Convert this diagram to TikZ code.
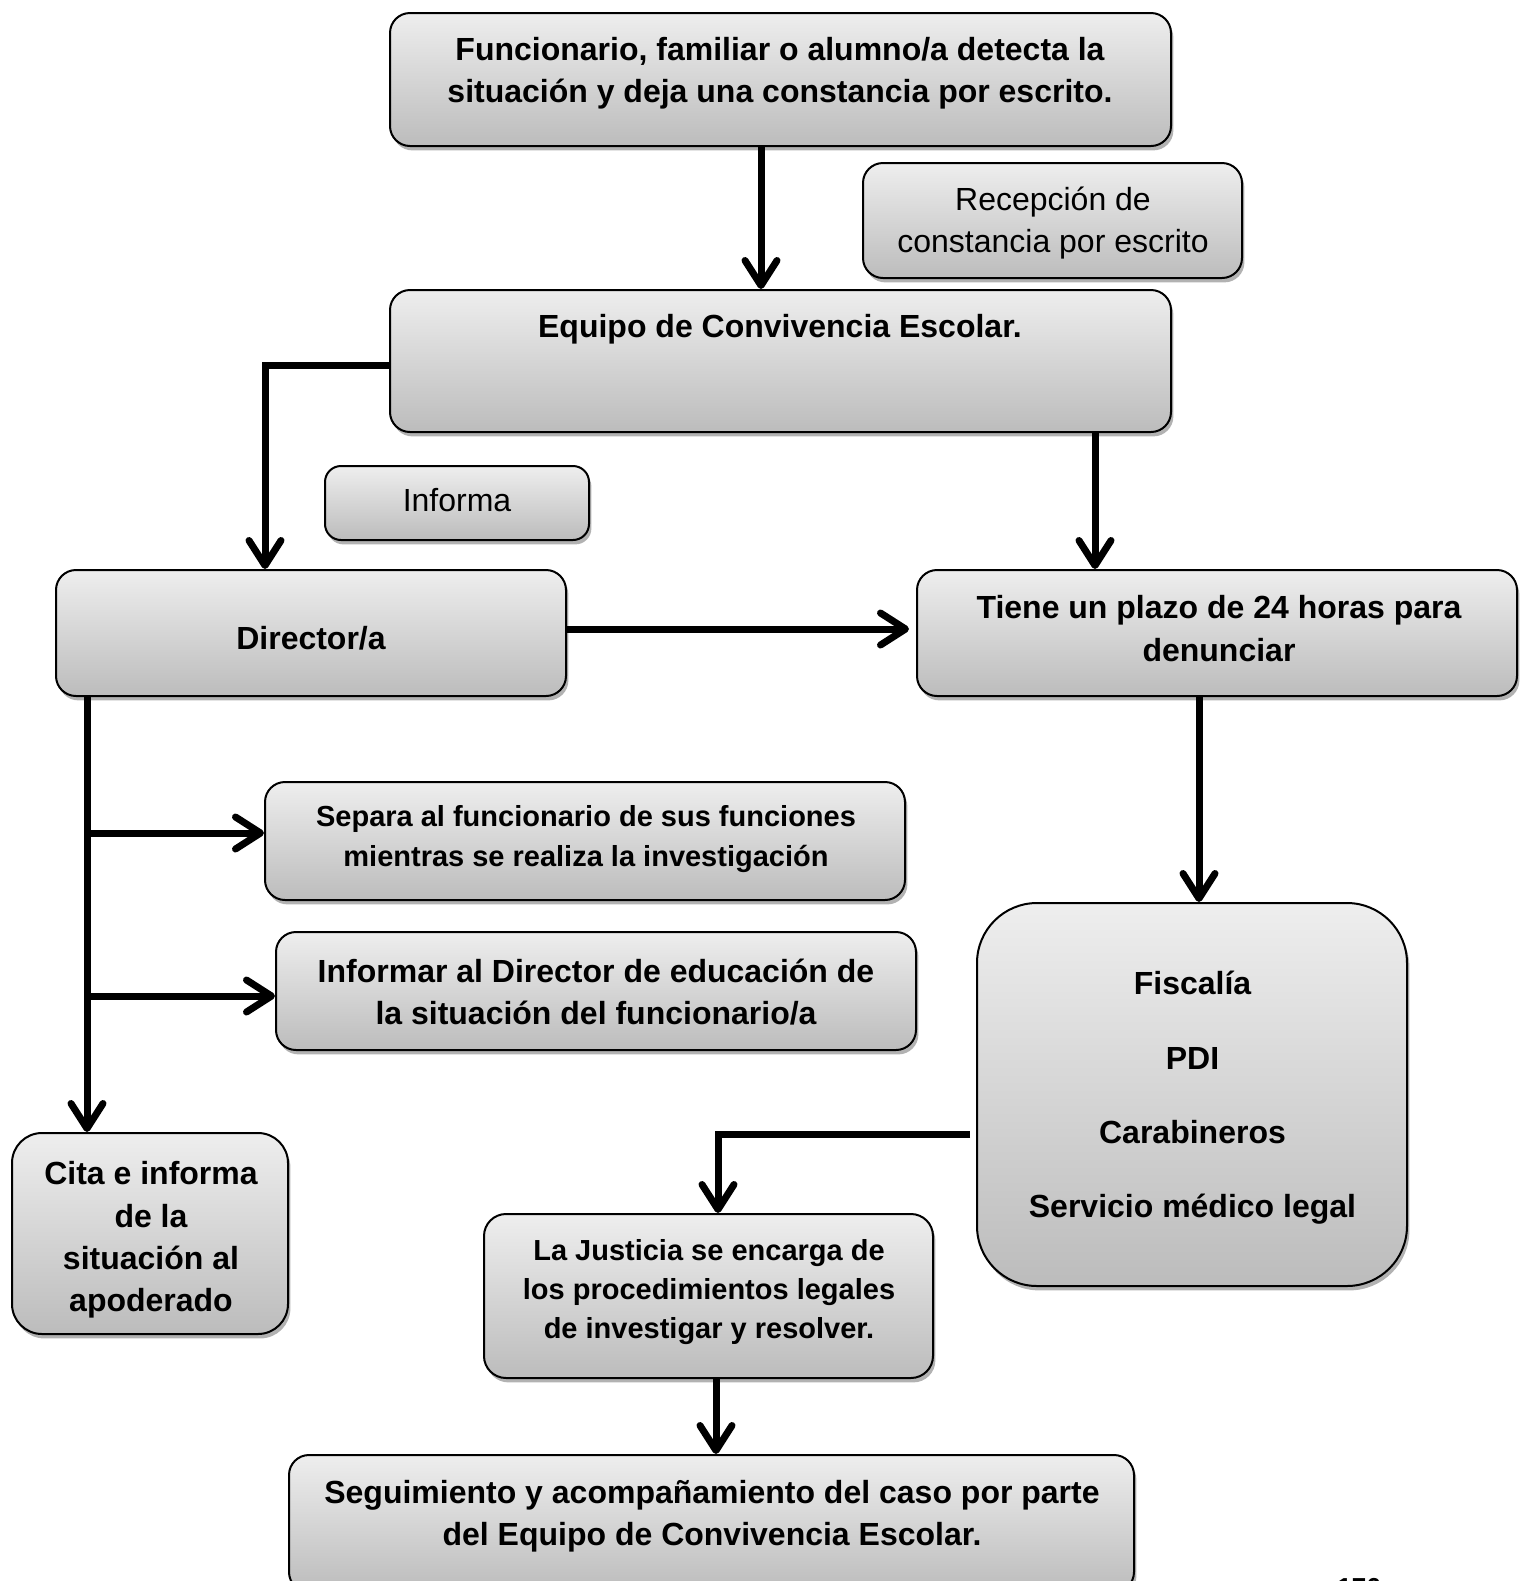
\documentclass[tikz,border=0pt]{standalone}
\usepackage{fontspec}
\setmainfont{Liberation Sans}
\usetikzlibrary{arrows.meta,shadows}
\definecolor{boxtop}{RGB}{238,238,238}
\definecolor{boxbot}{RGB}{188,188,188}
\newcommand\mkbox[6][]{%
  \node[box,#1,minimum width={(#5-#3)*0.5pt},minimum height={(#6-#4)*0.5pt}] (#2) at ({(#3+#5)/2},{(#4+#6)/2}) {};}
\begin{document}
\begin{tikzpicture}[x=0.5pt,y=-0.5pt,
  box/.style={draw=black, line width=1pt, rounded corners=10pt, top color=boxtop, bottom color=boxbot,
    drop shadow={shadow xshift=1.2pt, shadow yshift=-2.2pt, fill=black, opacity=0.3}, inner sep=0pt},
  tb/.style={align=center, inner sep=0pt, font=\bfseries\fontsize{16pt}{21.15pt}\selectfont},
  tr/.style={align=center, inner sep=0pt, font=\fontsize{16pt}{20.7pt}\selectfont},
  ts/.style={align=center, inner sep=0pt, font=\bfseries\fontsize{14.5pt}{19.6pt}\selectfont},
  tf/.style={align=center, inner sep=0pt, font=\bfseries\fontsize{16pt}{37.15pt}\selectfont},
  conn/.style={line width=3.5pt},
  arr/.style={conn, -{Straight Barb[length=12.5pt,width=16pt,line cap=round,line join=round]}}
]
\useasboundingbox (0,0) rectangle (1520,1581);

% boxes
\mkbox{top}{390}{13}{1171}{146}
\mkbox{rec}{863}{163}{1242}{278}
\mkbox{eq}{390}{290}{1171}{432}
\mkbox[rounded corners=8pt]{inf}{325}{466}{589}{540}
\mkbox{dir}{56}{570}{566}{696}
\mkbox{tie}{917}{570}{1517}{696}
\mkbox{sep}{265}{782}{905}{900}
\mkbox{infd}{276}{932}{916}{1050}
\mkbox[rounded corners=15pt]{cita}{12}{1133}{288}{1334}
\mkbox[rounded corners=30pt]{fis}{977}{903}{1407}{1286}
\mkbox[rounded corners=11pt]{jus}{484}{1214}{933}{1378}
\mkbox{seg}{289}{1455}{1134}{1592}

% texts
\node[tb] (t1) at (780,73) {Funcionario, familiar o alumno/a detecta la\\situación y deja una constancia por escrito.};
\node[tr] (t2) at (1053,223) {Recepción de\\constancia por escrito};
\node[tb] (t3) at (780,329) {Equipo de Convivencia Escolar.};
\node[tr] (t4) at (457,500) {Informa};
\node[tb] (t5) at (311,638.5) {Director/a};
\node[tb] (t6) at (1219,628.5) {Tiene un plazo de 24 horas para\\denunciar};
\node[ts] (t7) at (586,839) {Separa al funcionario de sus funciones\\mientras se realiza la investigación};
\node[tb] (t8) at (596,992) {Informar al Director de educación de\\la situación del funcionario/a};
\node[tb] (t9) at (151,1240) {Cita e informa\\de la\\situación al\\apoderado};
\node[tf] (t10) at (1192.5,1098) {Fiscalía\\PDI\\Carabineros\\Servicio médico legal};
\node[ts] (t11) at (709,1292) {La Justicia se encarga de\\los procedimientos legales\\de investigar y resolver.};
\node[tb] (t12) at (712,1516.5) {Seguimiento y acompañamiento del caso por parte\\del Equipo de Convivencia Escolar.};
\node[anchor=north west, inner sep=0pt, font=\bfseries\fontsize{13pt}{13pt}\selectfont] (pg) at (1337,1578) {176};

% helper coordinates
\coordinate (xa) at (761,0);
\coordinate (ya) at (0,365);
\coordinate (xb) at (265,0);
\coordinate (xc) at (1095,0);
\coordinate (yd) at (0,629);
\coordinate (xe) at (87,0);
\coordinate (yf) at (0,833);
\coordinate (yg) at (0,996);
\coordinate (xh) at (1199,0);
\coordinate (i0) at (970,1134);
\coordinate (xj) at (718,0);
\coordinate (xk) at (716,0);

% connectors
\draw[arr] (top.south -| xa) -- (eq.north -| xa);
\draw[arr] (eq.west |- ya) -| (dir.north -| xb);
\draw[arr] (eq.south -| xc) -- (tie.north -| xc);
\draw[arr, shorten >=3.5pt] (dir.east |- yd) -- (tie.west |- yd);
\draw[arr] (dir.south -| xe) -- (cita.north -| xe);
\draw[arr] (xe |- yf) -- (sep.west |- yf);
\draw[arr] (xe |- yg) -- (infd.west |- yg);
\draw[arr] (tie.south -| xh) -- (fis.north -| xh);
\draw[arr] (i0) -| (jus.north -| xj);
\draw[arr] (jus.south -| xk) -- (seg.north -| xk);
\end{tikzpicture}
\end{document}
